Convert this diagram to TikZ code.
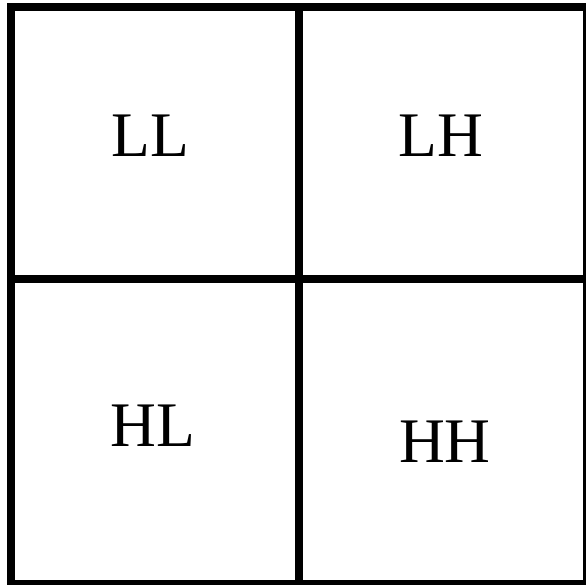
\documentclass[tikz,border=0pt]{standalone}
\usepackage{fontspec}
\setmainfont{Liberation Serif}
\usepackage{tikz}

\tikzset{
  band/.style={font=\fontsize{63.5}{70}\selectfont, anchor=base, inner sep=0pt},
  edge/.style={line width=8pt}
}

\begin{document}
\begin{tikzpicture}[x=1pt,y=-1pt]
  % page frame
  \clip (0,0) rectangle (586,585);
  \fill[white] (0,0) rectangle (586,585);
  % outer square and the two dividing lines
  \draw[edge] (11.2,7) rectangle (587,584);
  \draw[edge] (299.3,7) -- (299.3,584);
  \draw[edge] (11.2,279.3) -- (587,279.3);
  % sub-band labels
  \node[band] (ll) at (150,157) {LL};
  \node[band] (lh) at (441,157) {LH};
  \node[band] (hl) at (152.5,446) {HL};
  \node[band] (hh) at (445,462) {HH};
\end{tikzpicture}
\end{document}
